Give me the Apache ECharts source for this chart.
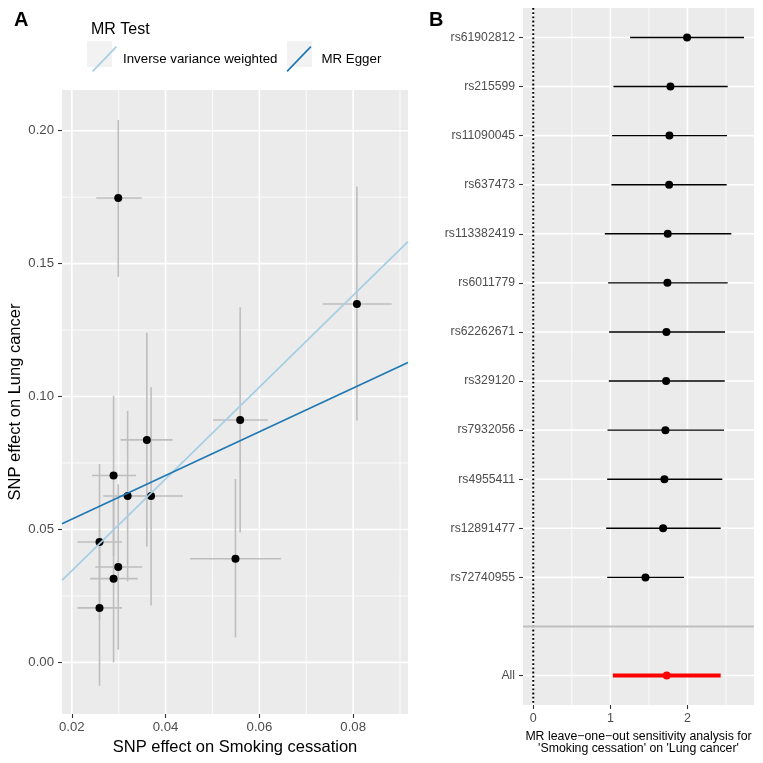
<!DOCTYPE html>
<html>
<head>
<meta charset="utf-8">
<script src="https://cdn.jsdelivr.net/npm/echarts@6/dist/echarts.min.js"></script>
<style>html,body{margin:0;padding:0;background:#fff}#c{width:763px;height:763px}</style>
</head>
<body>
<div id="c"></div>
<script>
// ---------- Panel A data ----------
const snpX = [0.0299, 0.0808, 0.0559, 0.0360, 0.0289, 0.0319, 0.0369, 0.0259, 0.0299, 0.0289, 0.0549, 0.0259];
const snpY = [0.1747, 0.1348, 0.0912, 0.0837, 0.0703, 0.0626, 0.0626, 0.0453, 0.0359, 0.0315, 0.0390, 0.0205];
const snpXLo = [0.0252, 0.0735, 0.0501, 0.0304, 0.0243, 0.0267, 0.0301, 0.0212, 0.0250, 0.0239, 0.0452, 0.0212];
const snpXHi = [0.0349, 0.0882, 0.0618, 0.0415, 0.0337, 0.0373, 0.0437, 0.0307, 0.0350, 0.0341, 0.0646, 0.0307];
const snpYLo = [0.145, 0.091, 0.0489, 0.0436, 0.040, 0.0305, 0.0214, 0.016, 0.0048, 0.0, 0.0094, -0.0088];
const snpYHi = [0.204, 0.179, 0.1336, 0.124, 0.1003, 0.0946, 0.1035, 0.0746, 0.067, 0.063, 0.069, 0.050];
const methods = ['Inverse variance weighted', 'MR Egger'];
const methodIntercept = [0, 0.0374];
const methodSlope = [1.726, 0.8225];
const methodColors = ['#A6CEE3', '#1F78B4'];
const xTicksA = [0.02, 0.04, 0.06, 0.08];
const xMinorA = [0.03, 0.05, 0.07, 0.09];
const yTicksA = [0, 0.05, 0.10, 0.15, 0.20];
const yMinorA = [0.025, 0.075, 0.125, 0.175];
const xRangeA = [0.0179, 0.0917];
const yRangeA = [-0.0194, 0.2153];

// ---------- Panel B data ----------
const looNames = ['rs61902812', 'rs215599', 'rs11090045', 'rs637473', 'rs113382419', 'rs6011779',
  'rs62262671', 'rs329120', 'rs7932056', 'rs4955411', 'rs12891477', 'rs72740955', '', 'All'];
const looB = [1.995, 1.779, 1.766, 1.762, 1.744, 1.740, 1.727, 1.723, 1.714, 1.701, 1.684, 1.455, null, 1.731];
const looLo = [1.256, 1.040, 1.023, 1.014, 0.928, 0.971, 0.984, 0.980, 0.963, 0.959, 0.946, 0.959, null, 1.032];
const looHi = [2.733, 2.522, 2.513, 2.509, 2.569, 2.522, 2.487, 2.483, 2.474, 2.452, 2.431, 1.956, null, 2.431];
const xTicksB = [0, 1, 2];
const xMinorB = [0.5, 1.5, 2.5];
const xRangeB = [-0.133, 2.863];

const FONT = 'Liberation Sans, Arial, sans-serif';
const GRAYTXT = '#4D4D4D';

function gridLineSeries(name, xi, yi, vals, vertical, width, color, dash, z) {
  return {
    type: 'custom', name: name, xAxisIndex: xi, yAxisIndex: yi, silent: true, z: z || 1,
    data: vals.map(v => vertical ? [v, 0] : [0, v]),
    renderItem: function (params, api) {
      const cs = params.coordSys;
      const v = vertical ? api.value(0) : api.value(1);
      let shape;
      if (vertical) {
        const px = api.coord([v, 0])[0];
        shape = { x1: px, y1: cs.y, x2: px, y2: cs.y + cs.height };
      } else {
        const py = api.coord([0, v])[1];
        shape = { x1: cs.x, y1: py, x2: cs.x + cs.width, y2: py };
      }
      return { type: 'line', shape: shape, style: { stroke: color, lineWidth: width, lineDash: dash || null } };
    }
  };
}

// Error bars A
const errA = snpX.map((x, i) => [x, snpY[i], snpXLo[i], snpXHi[i], snpYLo[i], snpYHi[i]]);
// B
const looIdx = looNames.map((n, i) => i);
const errB = [];
const ptsB = [];
looIdx.forEach(i => {
  if (looB[i] !== null) {
    errB.push([looB[i], i, looLo[i], looHi[i]]);
    ptsB.push({ value: [looB[i], i], itemStyle: { color: looNames[i] === 'All' ? '#FF0000' : '#000000', opacity: 1 } });
  }
});

const lineSeries = methods.map((m, k) => ({
  type: 'line', name: m, xAxisIndex: 0, yAxisIndex: 0, showSymbol: false, silent: true, z: 4,
  data: xRangeA.map(x => [x, methodIntercept[k] + methodSlope[k] * x]),
  lineStyle: { color: methodColors[k], width: 1.7 },
  itemStyle: { color: methodColors[k] },
  clip: true
}));

const tickStyle = { color: '#333333', width: 1.1 };

const option = {
  animation: false,
  backgroundColor: '#ffffff',
  textStyle: { fontFamily: FONT },
  title: [
    { text: 'A', left: 9, top: 5, textStyle: { fontFamily: FONT, fontSize: 20, fontWeight: 'bold', color: '#000' } },
    { text: 'B', left: 424, top: 5, textStyle: { fontFamily: FONT, fontSize: 20, fontWeight: 'bold', color: '#000' } },
    { text: 'MR Test', left: 86, top: 17, textStyle: { fontFamily: FONT, fontSize: 16, fontWeight: 'normal', color: '#000' } }
  ],
  legend: {
    left: 87, top: 41, orient: 'horizontal',
    itemWidth: 25, itemHeight: 26, itemGap: 9,
    data: methods.map((m, k) => ({ name: m, icon: 'path://M0,24.8 L23.8,0 L25,1.2 L1.2,26 Z',
      textStyle: { padding: [0, 0, 0, k === 0 ? 1 : 5] } })),
    textStyle: { fontFamily: FONT, fontSize: 13.3, color: '#000' },
    selectedMode: false
  },
  graphic: [
    { type: 'rect', left: 87, top: 41, shape: { width: 25, height: 26 }, style: { fill: '#F2F2F2' }, z: -1, silent: true },
    { type: 'rect', left: 287, top: 41, shape: { width: 25, height: 26 }, style: { fill: '#F2F2F2' }, z: -1, silent: true }
  ],
  grid: [
    { left: 62, top: 90, width: 346, height: 624, show: true, backgroundColor: '#EBEBEB', borderWidth: 0 },
    { left: 523, top: 8, width: 231, height: 697, show: true, backgroundColor: '#EBEBEB', borderWidth: 0 }
  ],
  xAxis: [
    {
      gridIndex: 0, type: 'value', min: xRangeA[0], max: xRangeA[1], position: 'bottom',
      name: 'SNP effect on Smoking cessation', nameLocation: 'middle', nameGap: 24,
      nameTextStyle: { fontFamily: FONT, fontSize: 16.5, color: '#000' },
      axisLine: { show: false, onZero: false },
      axisTick: { show: true, length: 4, customValues: xTicksA, lineStyle: tickStyle },
      axisLabel: { customValues: xTicksA, margin: 7, fontFamily: FONT, fontSize: 13.2, color: GRAYTXT, formatter: v => v.toFixed(2) },
      splitLine: { show: false }
    },
    {
      gridIndex: 1, type: 'value', min: xRangeB[0], max: xRangeB[1], position: 'bottom',
      name: "MR leave\u2212one\u2212out sensitivity analysis for\n'Smoking cessation' on 'Lung cancer'",
      nameLocation: 'middle', nameGap: 26,
      nameTextStyle: { fontFamily: FONT, fontSize: 12.3, lineHeight: 12, color: '#000' },
      axisLine: { show: false, onZero: false },
      axisTick: { show: true, length: 4, customValues: xTicksB, lineStyle: tickStyle },
      axisLabel: { customValues: xTicksB, margin: 7, fontFamily: FONT, fontSize: 12.5, color: GRAYTXT, formatter: v => String(Math.round(v)) },
      splitLine: { show: false }
    }
  ],
  yAxis: [
    {
      gridIndex: 0, type: 'value', min: yRangeA[0], max: yRangeA[1], position: 'left',
      name: 'SNP effect on Lung cancer', nameLocation: 'middle', nameGap: 38, nameMoveOverlap: false,
      nameTextStyle: { fontFamily: FONT, fontSize: 16.5, color: '#000' },
      axisLine: { show: false, onZero: false },
      axisTick: { show: true, length: 4, customValues: yTicksA, lineStyle: tickStyle },
      axisLabel: { customValues: yTicksA, margin: 8, fontFamily: FONT, fontSize: 13.2, color: GRAYTXT, formatter: v => v.toFixed(2) },
      splitLine: { show: false }
    },
    {
      gridIndex: 1, type: 'value', min: -0.6, max: looNames.length - 0.4, inverse: true, position: 'left',
      axisLine: { show: false, onZero: false },
      axisTick: { show: true, length: 4, customValues: looIdx.filter(i => looNames[i] !== ''), lineStyle: tickStyle },
      axisLabel: { customValues: looIdx.filter(i => looNames[i] !== ''), margin: 8, fontFamily: FONT, fontSize: 12.2, color: GRAYTXT,
        formatter: v => looNames[Math.round(v)] },
      splitLine: { show: false }
    }
  ],
  series: [
    gridLineSeries('gxMinA', 0, 0, xMinorA, true, 0.8, '#FFFFFF'),
    gridLineSeries('gyMinA', 0, 0, yMinorA, false, 0.8, '#FFFFFF'),
    gridLineSeries('gxA', 0, 0, xTicksA, true, 1.6, '#FFFFFF'),
    gridLineSeries('gyA', 0, 0, yTicksA, false, 1.6, '#FFFFFF'),
    {
      type: 'custom', name: 'errA', xAxisIndex: 0, yAxisIndex: 0, silent: true, z: 2,
      data: errA,
      renderItem: function (params, api) {
        const c = api.coord([api.value(0), api.value(1)]);
        const xl = api.coord([api.value(2), api.value(1)]);
        const xh = api.coord([api.value(3), api.value(1)]);
        const yl = api.coord([api.value(0), api.value(4)]);
        const yh = api.coord([api.value(0), api.value(5)]);
        const st = { stroke: '#BEBEBE', lineWidth: 1.6 };
        return { type: 'group', children: [
          { type: 'line', shape: { x1: xl[0], y1: c[1], x2: xh[0], y2: c[1] }, style: st },
          { type: 'line', shape: { x1: c[0], y1: yl[1], x2: c[0], y2: yh[1] }, style: st }
        ] };
      }
    },
    {
      type: 'scatter', name: 'ptsA', xAxisIndex: 0, yAxisIndex: 0, z: 3, silent: true,
      symbolSize: 8, itemStyle: { color: '#000000', opacity: 1 },
      data: snpX.map((x, i) => [x, snpY[i]])
    },
    ...lineSeries,
    // Panel B
    gridLineSeries('gxMinB', 1, 1, xMinorB, true, 0.8, '#FFFFFF'),
    gridLineSeries('gxB', 1, 1, xTicksB, true, 1.6, '#FFFFFF'),
    gridLineSeries('gyB', 1, 1, looIdx, false, 1.6, '#FFFFFF'),
    gridLineSeries('zeroB', 1, 1, [0], true, 2, '#000000', [1.8, 2.4], 2),
    gridLineSeries('sepB', 1, 1, looIdx.filter(i => looNames[i] === ''), false, 2, '#BEBEBE', null, 2),
    {
      type: 'custom', name: 'errB', xAxisIndex: 1, yAxisIndex: 1, silent: true, z: 3,
      data: errB,
      renderItem: function (params, api) {
        const lo = api.coord([api.value(2), api.value(1)]);
        const hi = api.coord([api.value(3), api.value(1)]);
        const isAll = looNames[Math.round(api.value(1))] === 'All';
        return { type: 'line', shape: { x1: lo[0], y1: lo[1], x2: hi[0], y2: hi[1] },
          style: { stroke: isAll ? '#FF0000' : '#000000', lineWidth: isAll ? 4 : 1.4 } };
      }
    },
    {
      type: 'scatter', name: 'ptsB', xAxisIndex: 1, yAxisIndex: 1, z: 4, silent: true,
      symbolSize: 8, data: ptsB
    }
  ]
};

const chart = echarts.init(document.getElementById('c'), null, { renderer: 'canvas' });
chart.setOption(option);
</script>
</body>
</html>
